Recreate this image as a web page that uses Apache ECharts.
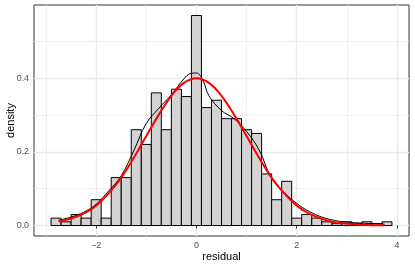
<!DOCTYPE html>
<html>
<head>
<meta charset="utf-8">
<script src="https://cdn.jsdelivr.net/npm/echarts@6.0.0/dist/echarts.min.js"></script>
<style>
html,body{margin:0;padding:0;background:#fff;}
#chart{width:415px;height:267px;}
</style>
</head>
<body>
<div id="chart"></div>
<script>
// ---- data ----
var binWidth = 0.2;
var binCenters = [-2.8,-2.6,-2.4,-2.2,-2.0,-1.8,-1.6,-1.4,-1.2,-1.0,-0.8,-0.6,-0.4,-0.2,0.0,0.2,0.4,0.6,0.8,1.0,1.2,1.4,1.6,1.8,2.0,2.2,2.4,2.6,2.8,3.0,3.2,3.4,3.6,3.8];
var binDensity = [0.02,0.01,0.03,0.02,0.07,0.02,0.13,0.13,0.26,0.22,0.36,0.26,0.37,0.35,0.57,0.32,0.34,0.29,0.29,0.26,0.25,0.14,0.07,0.12,0.02,0.03,0.02,0.01,0.005,0.01,0.005,0.01,0.005,0.01];

var kdeX = [-2.75,-2.5,-2.25,-2.0,-1.75,-1.5,-1.25,-1.0,-0.75,-0.5,-0.25,-0.125,0,0.125,0.25,0.5,0.75,1.0,1.25,1.5,1.75,2.0,2.25,2.5,2.75,3.0,3.25,3.5,3.75];
var kdeY = [0.014,0.023,0.036,0.058,0.094,0.135,0.203,0.277,0.318,0.355,0.398,0.412,0.414,0.395,0.352,0.312,0.29,0.255,0.205,0.128,0.09,0.06,0.038,0.023,0.014,0.009,0.007,0.005,0.004];

var normX = [-2.75,-2.5,-2.25,-2.0,-1.75,-1.5,-1.25,-1.0,-0.75,-0.5,-0.25,0,0.25,0.5,0.75,1.0,1.25,1.5,1.75,2.0,2.25,2.5,2.75,3.0,3.25,3.5,3.75];
var normY = [0.011,0.019,0.032,0.054,0.087,0.13,0.184,0.243,0.301,0.352,0.387,0.40,0.387,0.352,0.301,0.243,0.184,0.13,0.087,0.054,0.032,0.018,0.009,0.005,0.002,0.001,0.0004];

var xTicks = [-2,0,2,4];
var xTickLabels = ['\u22122','0','2','4'];
var xMinor = [-3,-1,1,3];
var yTicks = [0,0.2,0.4];
var yTickLabels = ['0.0','0.2','0.4'];
var yMinor = [0.1,0.3,0.5];

var xTitle = 'residual';
var yTitle = 'density';

// ---- build ----
function pairs(xs, ys){ return xs.map(function(x,i){ return [x, ys[i]]; }); }
var histData = pairs(binCenters, binDensity);

var font = 'Liberation Sans, Arial, Helvetica, sans-serif';
var chart = echarts.init(document.getElementById('chart'), null, {renderer:'canvas'});

chart.setOption({
  animation: false,
  backgroundColor: '#ffffff',
  grid: {left:34, right:6, top:5, bottom:31, containLabel:false, outerBoundsMode:'none',
         show:true, borderColor:'#333333', borderWidth:1, backgroundColor:'#ffffff'},
  xAxis: [
    {
      type:'value', min:-3.24, max:4.24, position:'bottom',
      axisLine:{show:false},
      axisTick:{show:true, length:3, customValues:xTicks, lineStyle:{color:'#333333', width:1}},
      axisLabel:{show:true, customValues:xTicks, margin:5, color:'#4d4d4d', fontSize:8.8, fontFamily:font,
        formatter:function(v){ var i = xTicks.indexOf(v); return i>=0 ? xTickLabels[i] : ''; }},
      splitLine:{show:true, lineStyle:{color:'#ebebeb', width:1.4}},
      name:xTitle, nameLocation:'middle', nameGap:15, nameMoveOverlap:false,
      nameTextStyle:{color:'#000000', fontSize:11, fontFamily:font}
    },
    {
      type:'value', min:-3.24, max:4.24, position:'bottom',
      axisLine:{show:false},
      axisTick:{show:false, customValues:xMinor},
      axisLabel:{show:false},
      splitLine:{show:true, lineStyle:{color:'#ebebeb', width:0.8}}
    }
  ],
  yAxis: [
    {
      type:'value', min:-0.0285, max:0.5985, position:'left',
      axisLine:{show:false},
      axisTick:{show:true, length:3, customValues:yTicks, lineStyle:{color:'#333333', width:1}},
      axisLabel:{show:true, customValues:yTicks, margin:5, color:'#4d4d4d', fontSize:8.8, fontFamily:font,
        formatter:function(v){ var i = yTicks.indexOf(v); return i>=0 ? yTickLabels[i] : ''; }},
      splitLine:{show:true, lineStyle:{color:'#ebebeb', width:1.4}},
      name:yTitle, nameLocation:'middle', nameGap:18, nameRotate:90, nameMoveOverlap:false,
      nameTextStyle:{color:'#000000', fontSize:11, fontFamily:font}
    },
    {
      type:'value', min:-0.0285, max:0.5985, position:'left',
      axisLine:{show:false},
      axisTick:{show:false, customValues:yMinor},
      axisLabel:{show:false},
      splitLine:{show:true, lineStyle:{color:'#ebebeb', width:0.8}}
    }
  ],
  series: [
    {
      type:'custom', xAxisIndex:0, yAxisIndex:0, z:2,
      data: histData,
      renderItem: function(params, api){
        var c = api.value(0), h = api.value(1);
        var p0 = api.coord([c - binWidth/2, h]);
        var p1 = api.coord([c + binWidth/2, 0]);
        return {
          type:'rect',
          shape:{x:p0[0], y:p0[1], width:p1[0]-p0[0], height:p1[1]-p0[1]},
          style:{fill:'#d3d3d3', stroke:'#000000', lineWidth:1}
        };
      }
    },
    {
      type:'line', xAxisIndex:0, yAxisIndex:0, z:3,
      data: pairs(kdeX, kdeY), smooth:0.4, showSymbol:false, symbol:'none',
      lineStyle:{color:'#000000', width:1}
    },
    {
      type:'line', xAxisIndex:0, yAxisIndex:0, z:4,
      data: pairs(normX, normY), smooth:0.4, showSymbol:false, symbol:'none',
      lineStyle:{color:'#ff0000', width:2}
    }
  ]
});
</script>
</body>
</html>
